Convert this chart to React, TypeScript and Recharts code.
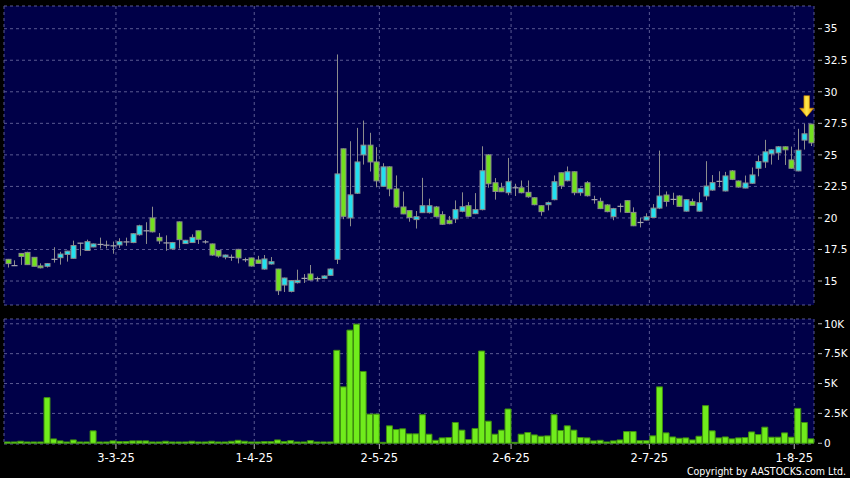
import React from 'react';
import { ComposedChart, Bar, XAxis, YAxis, CartesianGrid, ReferenceDot } from 'recharts';

// ---- data (one entry per trading day) ----
const opens = [
  16.72, 16.22, 17.19, 17.27, 16.88, 16.2, 16.17, 16.72, 16.85, 17.11,
  16.8, 18.0, 17.42, 17.7, 17.9, 17.84, 17.79, 17.86, 18.1, 18.05,
  18.67, 18.98, 20.0, 18.46, 18.02, 17.55, 19.69, 17.97, 18.05, 18.98,
  18.1, 17.94, 17.43, 16.9, 16.88, 17.51, 16.69, 16.83, 16.67, 15.95,
  16.35, 15.95, 14.68, 14.18, 14.87, 15.21, 15.56, 15.19, 15.21, 15.45,
  16.72, 25.48, 20.0, 21.96, 25.0, 25.77, 24.44, 22.51, 24.05, 22.3,
  20.87, 20.58, 19.87, 20.42, 20.42, 20.87, 20.26, 19.82, 19.92, 20.53,
  20.97, 20.34, 20.66, 25.0, 22.79, 22.39, 22.0, 22.39, 22.39, 22.03,
  21.6, 20.97, 21.05, 21.45, 23.58, 22.95, 23.66, 22.0, 22.79, 21.45,
  21.32, 21.03, 20.1, 20.92, 21.37, 20.44, 19.64, 19.83, 20.04, 20.78,
  21.82, 21.47, 21.74, 20.54, 21.29, 20.54, 21.74, 22.21, 22.9, 22.14,
  23.73, 22.93, 22.37, 22.75, 23.94, 24.44, 25.08, 25.16, 25.64, 24.6,
  23.73, 26.17, 27.44,
];
const closes = [
  16.38, 16.22, 16.95, 16.3, 16.17, 16.05, 16.38, 16.72, 17.14, 17.37,
  17.81, 18.0, 18.12, 17.94, 17.9, 17.84, 17.79, 18.12, 18.1, 18.75,
  19.38, 18.98, 18.9, 18.18, 18.02, 18.05, 18.28, 18.23, 18.46, 18.31,
  18.1, 17.06, 16.98, 17.06, 16.88, 16.83, 16.69, 16.19, 16.4, 16.75,
  16.53, 14.23, 15.24, 15.03, 15.05, 15.21, 15.08, 15.19, 15.4, 15.95,
  23.49, 20.13, 21.83, 24.44, 25.77, 24.44, 22.94, 24.05, 22.3, 20.87,
  20.32, 20.03, 20.1, 20.97, 20.97, 20.1, 19.5, 19.55, 20.66, 20.89,
  20.13, 20.66, 23.74, 22.71, 22.1, 22.08, 22.87, 22.39, 22.0, 21.68,
  21.05, 20.5, 21.21, 22.87, 22.55, 23.66, 22.0, 22.32, 21.76, 21.45,
  20.74, 20.5, 20.74, 20.92, 20.44, 19.38, 19.64, 20.09, 20.78, 21.74,
  21.31, 21.47, 20.92, 21.45, 21.0, 21.21, 22.53, 22.8, 22.9, 23.33,
  23.06, 22.45, 22.77, 23.41, 24.47, 25.24, 25.4, 25.64, 25.4, 23.94,
  25.37, 26.67, 25.95,
];
const highs = [
  16.75, 16.64, 17.2, 17.32, 16.9, 16.4, 16.43, 17.68, 17.32, 17.4,
  18.2, 18.03, 18.28, 17.97, 18.44, 18.2, 18.13, 18.39, 18.44, 18.8,
  19.46, 19.66, 20.89, 18.8, 18.62, 18.1, 19.72, 18.26, 18.7, 19.0,
  18.25, 17.97, 17.45, 17.1, 17.1, 17.55, 16.85, 16.85, 17.0, 17.06,
  16.9, 15.97, 15.27, 15.08, 15.9, 15.55, 16.27, 15.35, 15.45, 16.0,
  32.96, 25.5, 26.08, 27.14, 27.72, 26.75, 25.61, 24.34, 24.1, 23.37,
  22.09, 20.6, 20.55, 23.18, 21.53, 20.95, 20.53, 20.16, 21.39, 22.03,
  21.26, 21.97, 25.68, 25.05, 23.16, 22.79, 24.76, 22.71, 22.97, 22.97,
  21.65, 21.0, 21.3, 23.37, 23.6, 24.08, 23.7, 22.4, 22.92, 21.76,
  21.6, 21.1, 20.8, 21.15, 21.4, 20.84, 20.01, 20.37, 21.1, 25.34,
  22.1, 22.0, 21.8, 21.5, 21.53, 22.03, 24.5, 23.4, 23.7, 23.65,
  23.8, 22.97, 23.36, 24.0, 24.95, 26.19, 25.45, 25.7, 25.68, 25.66,
  27.07, 27.47, 27.47,
];
const lows = [
  16.07, 16.2, 16.28, 16.28, 16.15, 16.0, 16.07, 16.46, 16.3, 16.54,
  16.78, 17.0, 17.4, 17.68, 17.58, 17.58, 17.16, 17.63, 17.79, 18.0,
  18.6, 17.94, 18.85, 17.94, 17.4, 17.5, 17.58, 17.95, 18.03, 17.94,
  17.96, 17.0, 16.85, 16.72, 16.6, 16.4, 16.5, 16.15, 16.38, 15.9,
  16.3, 13.89, 14.13, 14.1, 14.8, 14.85, 15.05, 14.98, 15.15, 15.42,
  16.35, 19.9, 19.34, 21.9, 24.23, 23.68, 22.43, 22.45, 21.72, 20.8,
  20.3, 19.7, 19.16, 20.4, 20.35, 20.05, 19.45, 19.5, 19.6, 20.45,
  20.1, 20.3, 20.6, 22.4, 21.45, 22.05, 21.8, 21.74, 21.95, 21.6,
  21.0, 20.18, 20.6, 21.4, 22.3, 22.9, 21.8, 21.76, 21.7, 21.13,
  20.7, 20.45, 19.82, 20.44, 20.4, 19.35, 19.25, 19.8, 20.0, 20.7,
  20.9, 21.04, 20.88, 20.5, 20.98, 20.5, 21.4, 22.15, 22.43, 22.1,
  23.0, 22.4, 22.35, 22.7, 23.3, 23.97, 24.23, 24.6, 24.2, 23.9,
  23.7, 25.42, 25.7,
];
const volumes = [
  110, 110, 170, 110, 110, 110, 3820, 365, 200, 110,
  280, 110, 110, 1040, 110, 110, 200, 140, 140, 200,
  200, 200, 110, 110, 170, 110, 110, 110, 170, 110,
  110, 170, 110, 110, 170, 250, 170, 110, 110, 140,
  140, 280, 140, 220, 110, 110, 220, 110, 110, 110,
  7780, 4720, 9470, 9970, 6010, 2440, 2440, 80, 1460, 1150,
  1210, 790, 790, 2390, 760, 250, 450, 480, 1740, 1100,
  310, 1240, 7720, 1850, 760, 1100, 2870, 80, 760, 900,
  700, 590, 620, 2390, 1070, 1460, 1100, 480, 450, 200,
  250, 110, 200, 280, 980, 980, 220, 220, 620, 4720,
  870, 530, 420, 450, 280, 590, 3150, 1040, 450, 530,
  370, 450, 480, 950, 730, 1350, 510, 510, 870, 510,
  2920, 1740, 370,
];

const dateLabels = ['3-3-25', '1-4-25', '2-5-25', '2-6-25', '2-7-25', '1-8-25'];
const dateIndex = [17, 38, 57, 77, 98, 120];
const priceTicks = [15, 17.5, 20, 22.5, 25, 27.5, 30, 32.5, 35];
const volumeTicks = [0, 2500, 5000, 7500, 10000];
const copyright = 'Copyright by AASTOCKS.com Ltd.';

const data = opens.map((o, i) => ({
  i,
  slot: i + 0.5,
  open: o,
  close: closes[i],
  high: highs[i],
  low: lows[i],
  vol: volumes[i],
}));

const N = opens.length;
const NAVY = '#000048';
const GRID = '#5a5a92';
const UP = '#22e0f0';
const DOWN = '#72e01e';
const EDGE = '#8c8c8c';
const FONT = '"DejaVu Sans", Verdana, sans-serif';

const Candle = (props: any) => {
  const { x, y, width, height, payload } = props;
  if (payload == null) return null;
  const { open, close, high, low } = payload;
  const cx = Math.round(x + width / 2) + 0.5;
  const k = height / (high - low);
  const yOf = (v: number) => y + (high - v) * k;
  const top = yOf(Math.max(open, close));
  const bot = yOf(Math.min(open, close));
  const doji = open === close;
  const fill = close > open ? UP : DOWN;
  return (
    <g>
      <line x1={cx} x2={cx} y1={y} y2={y + height} stroke={EDGE} strokeWidth={1} />
      {doji ? (
        <line x1={cx - 3} x2={cx + 3} y1={top} y2={top} stroke="#a8a8b0" strokeWidth={1.2} />
      ) : (
        <rect x={cx - 2.5} y={top} width={5} height={Math.max(bot - top, 1)} fill={fill} stroke={EDGE} strokeWidth={1} />
      )}
    </g>
  );
};

const Arrow = (props: any) => {
  const { cx, cy } = props;
  if (cx == null || cy == null) return null;
  const ax = cx - 4;
  const tip = cy - 7;
  const top = cy - 28;
  const neck = tip - 8.5;
  const pts = [
    [ax - 2.8, top], [ax + 2.8, top], [ax + 2.8, neck], [ax + 7, neck],
    [ax, tip], [ax - 7, neck], [ax - 2.8, neck],
  ].map((p) => p.join(',')).join(' ');
  return (
    <g>
      <defs>
        <linearGradient id="arrowGrad" x1="0" y1="0" x2="1" y2="0">
          <stop offset="0" stopColor="#e89a00" />
          <stop offset="0.5" stopColor="#ffe84a" />
          <stop offset="1" stopColor="#e89a00" />
        </linearGradient>
      </defs>
      <polygon points={pts} fill="url(#arrowGrad)" stroke="#c88000" strokeWidth={0.6} />
    </g>
  );
};

const makeRightTick = (fmt: (v: number) => string) => (props: any) => {
  const { x, y, payload } = props;
  return (
    <g>
      <line x1={x + 4} x2={x + 8} y1={y} y2={y} stroke="#b8b8b8" strokeWidth={1} />
      <text x={x + 10} y={y} dy="0.36em" fill="#ffffff" fontSize={10.5} fontFamily={FONT}>
        {fmt(payload.value)}
      </text>
    </g>
  );
};

const PriceTick = makeRightTick((v) => String(v));
const VolTick = makeRightTick((v) => (v === 0 ? '0' : `${v / 1000}K`));

const DateTick = (props: any) => {
  const { x, y, payload } = props;
  const idx = dateIndex.indexOf(payload.value);
  return (
    <g>
      <line x1={x} x2={x} y1={y} y2={y + 5} stroke="#b8b8b8" strokeWidth={1} />
      <text x={x} y={y + 14} dy="0.36em" textAnchor="middle" fill="#ffffff" fontSize={11.5} fontFamily={FONT}>
        {idx >= 0 ? dateLabels[idx] : ''}
      </text>
    </g>
  );
};

export default function App() {
  return (
    <div style={{ position: 'fixed', left: 0, top: 0, width: 850, height: 478, background: '#000', overflow: 'hidden' }}>
      <div style={{ position: 'absolute', left: 0, top: 0 }}>
        <ComposedChart width={850} height={310} data={data} margin={{ top: 6, right: 0, bottom: 5, left: 4 }} barCategoryGap={0}>
          <XAxis xAxisId="cat" dataKey="i" type="category" hide height={0} />
          <XAxis xAxisId="grid" dataKey="slot" type="number" domain={[0, N]} ticks={dateIndex} allowDataOverflow hide height={0} />
          <YAxis
            yAxisId="p"
            orientation="right"
            width={36}
            domain={[13.1, 36.8]}
            ticks={priceTicks}
            allowDataOverflow
            axisLine={false}
            tickLine={false}
            tickSize={0}
            tickMargin={0}
            tick={PriceTick}
            interval={0}
          />
          <CartesianGrid xAxisId="grid" yAxisId="p" fill={NAVY} fillOpacity={1} stroke={GRID} strokeDasharray="3 3" />
          <Bar
            xAxisId="cat"
            yAxisId="p"
            dataKey={(d: any) => [d.low, d.high]}
            shape={Candle}
            isAnimationActive={false}
          />
          <ReferenceDot xAxisId="cat" yAxisId="p" x={N - 1} y={highs[N - 1]} r={0} shape={Arrow} />
        </ComposedChart>
      </div>
      <div style={{ position: 'absolute', left: 0, top: 310 }}>
        <ComposedChart width={850} height={168} data={data} margin={{ top: 9, right: 0, bottom: 0, left: 4 }} barCategoryGap={0.5}>
          <XAxis
            xAxisId="grid"
            dataKey="slot"
            type="number"
            domain={[0, N]}
            ticks={dateIndex}
            allowDataOverflow
            height={34}
            axisLine={false}
            tickLine={false}
            tickSize={0}
            tickMargin={0}
            tick={DateTick}
            interval={0}
          />
          <XAxis xAxisId="cat" dataKey="i" type="category" hide height={0} />
          <YAxis
            yAxisId="v"
            orientation="right"
            width={36}
            domain={[-60, 10400]}
            ticks={volumeTicks}
            allowDataOverflow
            axisLine={false}
            tickLine={false}
            tickSize={0}
            tickMargin={0}
            tick={VolTick}
            interval={0}
          />
          <CartesianGrid xAxisId="grid" yAxisId="v" fill={NAVY} fillOpacity={1} stroke={GRID} strokeDasharray="3 3" />
          <Bar xAxisId="cat" yAxisId="v" dataKey="vol" fill="#70ec1c" stroke="#3f8e10" strokeWidth={1} isAnimationActive={false} />
        </ComposedChart>
      </div>
      <svg style={{ position: 'absolute', left: 0, top: 0 }} width={850} height={478} pointerEvents="none">
        <text x={846} y={471} dy="0.36em" textAnchor="end" fill="#ffffff" fontSize={10.5} fontFamily={'"DejaVu Sans Condensed", "DejaVu Sans", sans-serif'}>
          {copyright}
        </text>
      </svg>
    </div>
  );
}
